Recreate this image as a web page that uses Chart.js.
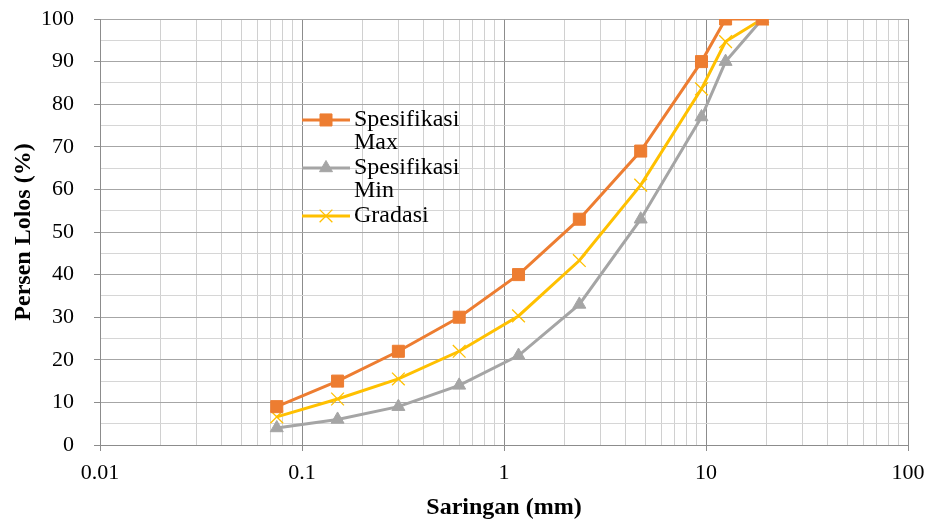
<!DOCTYPE html>
<html>
<head>
<meta charset="utf-8">
<script src="https://cdn.jsdelivr.net/npm/chart.js@4.4.1/dist/chart.umd.min.js"></script>
<style>
  html, body { margin: 0; padding: 0; background: #fff; }
  #wrap { width: 931px; height: 523px; }
</style>
</head>
<body>
<div id="wrap"><canvas id="gradChart"></canvas></div>
<script>
// sieve sizes (mm) and percent passing
const sieveSizes = [0.075, 0.15, 0.3, 0.6, 1.18, 2.36, 4.75, 9.5, 12.5, 19];
const specMax = [9, 15, 22, 30, 40, 53, 69, 90, 100, 100];
const specMin = [4, 6, 9, 14, 21, 33, 53, 77, 90, 100];
const gradasi = [6.6, 10.8, 15.5, 22, 30.3, 43.3, 61, 83.6, 94.7, 100];
const seriesNames = ["Spesifikasi Max", "Spesifikasi Min", "Gradasi"];
const xTickLabels = ["0.01", "0.1", "1", "10", "100"];
const yTickLabels = ["0", "10", "20", "30", "40", "50", "60", "70", "80", "90", "100"];

const serif = '"Liberation Serif", "Times New Roman", serif';

const toPoints = vals => sieveSizes.map((s, i) => ({ x: s, y: vals[i] }));

const isDecade = v => Math.abs(Math.log10(v) - Math.round(Math.log10(v))) < 1e-9;

// legend drawn inside the plot, with wrapped labels like the original
const innerLegend = {
  id: "innerLegend",
  afterDraw(chart) {
    const { ctx, chartArea } = chart;
    const w = chartArea.right - chartArea.left;
    const h = chartArea.bottom - chartArea.top;
    const x0 = chartArea.left + w * 0.25;
    let y = chartArea.top + h * 0.237;
    ctx.save();
    ctx.font = "24px " + serif;
    ctx.textBaseline = "middle";
    ctx.textAlign = "left";
    chart.data.datasets.forEach(ds => {
      ctx.strokeStyle = ds.borderColor;
      ctx.lineWidth = ds.borderWidth;
      ctx.beginPath();
      ctx.moveTo(x0, y);
      ctx.lineTo(x0 + 48, y);
      ctx.stroke();
      ctx.fillStyle = ds.pointBackgroundColor;
      ctx.strokeStyle = ds.pointBorderColor;
      ctx.lineWidth = ds.pointBorderWidth;
      Chart.helpers.drawPoint(ctx, { pointStyle: ds.pointStyle, rotation: 0, radius: ds.pointRadius, borderWidth: ds.pointBorderWidth }, x0 + 24, y);
      // word wrap
      const words = ds.label.split(" ");
      const lines = [];
      let cur = "";
      words.forEach(wd => {
        const t = cur ? cur + " " + wd : wd;
        if (cur && ctx.measureText(t).width > 122) { lines.push(cur); cur = wd; } else cur = t;
      });
      lines.push(cur);
      ctx.fillStyle = "#000";
      lines.forEach((ln, i) => ctx.fillText(ln, x0 + 52, y + i * 23));
      y += 48;
    });
    ctx.restore();
  }
};

new Chart(document.getElementById("gradChart"), {
  type: "scatter",
  data: {
    datasets: [
      {
        label: seriesNames[0],
        data: toPoints(specMax),
        showLine: true,
        borderColor: "#ED7D31",
        borderWidth: 3,
        pointStyle: "rect",
        pointRadius: 8.5,
        pointBackgroundColor: "#ED7D31",
        pointBorderColor: "#ED7D31",
        pointBorderWidth: 1
      },
      {
        label: seriesNames[1],
        data: toPoints(specMin),
        showLine: true,
        borderColor: "#A5A5A5",
        borderWidth: 3,
        pointStyle: "triangle",
        pointRadius: 7.5,
        pointBackgroundColor: "#A5A5A5",
        pointBorderColor: "#A5A5A5",
        pointBorderWidth: 1
      },
      {
        label: seriesNames[2],
        data: toPoints(gradasi),
        showLine: true,
        borderColor: "#FFC000",
        borderWidth: 3,
        pointStyle: "crossRot",
        pointRadius: 9,
        pointBackgroundColor: "#FFC000",
        pointBorderColor: "#FFC000",
        pointBorderWidth: 1.3
      }
    ]
  },
  options: {
    responsive: true,
    maintainAspectRatio: false,
    animation: false,
    layout: { padding: { left: 0, right: 23, top: 19, bottom: 0 } },
    plugins: {
      legend: { display: false },
      tooltip: { enabled: false }
    },
    scales: {
      x: {
        type: "logarithmic",
        min: 0.01,
        max: 100,
        afterBuildTicks: scale => {
          const t = [];
          for (let e = -2; e <= 1; e++) {
            for (let m = 1; m <= 9; m++) t.push({ value: Number((m * Math.pow(10, e)).toPrecision(6)) });
          }
          t.push({ value: 100 });
          scale.ticks = t;
        },
        afterFit: scale => {
          scale.height = 78;
          scale.paddingLeft = 0;
          scale.paddingRight = 0;
        },
        ticks: {
          autoSkip: false,
          maxRotation: 0,
          padding: 9,
          color: "#000",
          font: { family: serif, size: 22 },
          callback: v => (isDecade(v) && xTickLabels.includes(String(v)) ? String(v) : "")
        },
        grid: {
          color: c => (isDecade(c.tick.value) ? "#8c8c8c" : "#d0d0d0"),
          tickColor: c => (isDecade(c.tick.value) ? "#8c8c8c" : "rgba(0,0,0,0)"),
          tickLength: 6,
          lineWidth: 1
        },
        border: { color: "#8c8c8c" },
        title: {
          display: true,
          text: "Saringan (mm)",
          color: "#000",
          font: { family: serif, size: 24, weight: "bold" },
          padding: { top: 0, bottom: 1 }
        }
      },
      y: {
        min: 0,
        max: 100,
        afterFit: scale => {
          scale.width = 100;
          scale.paddingTop = 0;
          scale.paddingBottom = 0;
        },
        ticks: {
          stepSize: 5,
          maxTicksLimit: 25,
          autoSkip: false,
          padding: 20,
          color: "#000",
          font: { family: serif, size: 22 },
          callback: v => (yTickLabels.includes(String(v)) ? String(v) : "")
        },
        grid: {
          color: c => (c.tick.value % 10 === 0 ? "#a6a6a6" : "#d6d6d6"),
          tickColor: c => (c.tick.value % 10 === 0 ? "#8c8c8c" : "rgba(0,0,0,0)"),
          tickLength: 6,
          lineWidth: 1
        },
        border: { color: "#8c8c8c" },
        title: {
          display: true,
          text: "Persen Lolos (%)",
          color: "#000",
          font: { family: serif, size: 24, weight: "bold" },
          padding: { top: 9, bottom: 0 }
        }
      }
    }
  },
  plugins: [innerLegend]
});
</script>
</body>
</html>
